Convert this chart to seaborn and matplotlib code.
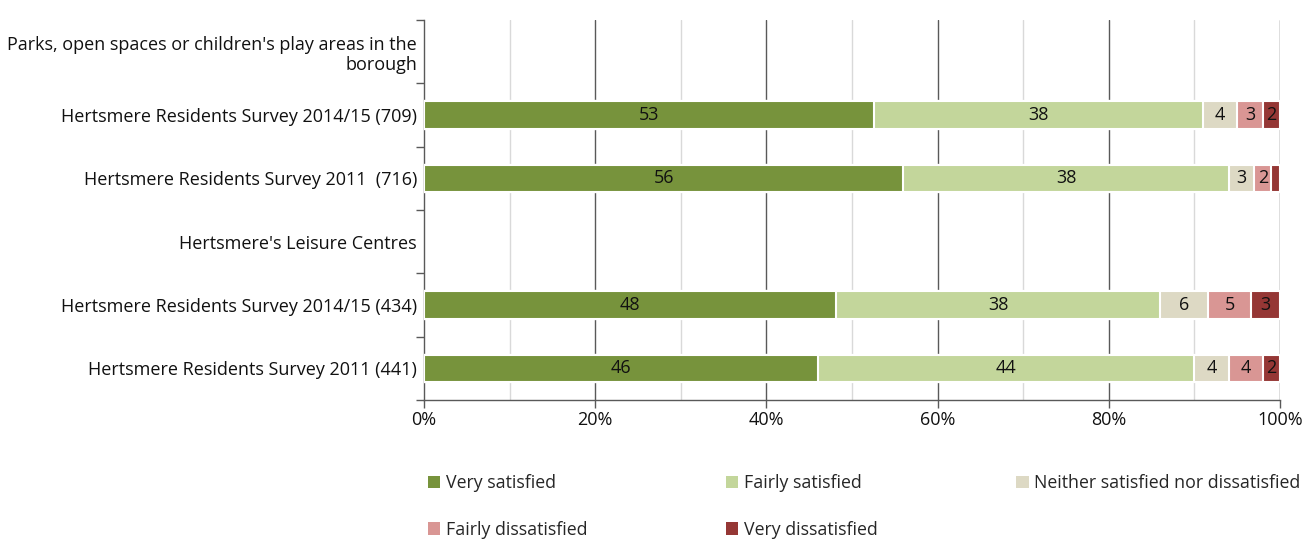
import numpy as np
import pandas as pd
import matplotlib
matplotlib.use("Agg")
import matplotlib.pyplot as plt
import seaborn as sns
from matplotlib.patches import Patch
from matplotlib.ticker import MultipleLocator, FixedLocator

# ---- data ----
rows = [
    "Parks, open spaces or children's play areas in the\nborough",
    "Hertsmere Residents Survey 2014/15 (709)",
    "Hertsmere Residents Survey 2011  (716)",
    "Hertsmere's Leisure Centres",
    "Hertsmere Residents Survey 2014/15 (434)",
    "Hertsmere Residents Survey 2011 (441)",
]
bar_rows = [rows[1], rows[2], rows[4], rows[5]]
series = ["Very satisfied", "Fairly satisfied", "Neither satisfied nor dissatisfied",
          "Fairly dissatisfied", "Very dissatisfied"]
very_satisfied = [52.6, 56.0, 48.1, 46.0]
fairly_satisfied = [38.4, 38.0, 37.9, 44.0]
neither = [4.0, 3.0, 5.6, 4.0]
fairly_dissatisfied = [3.0, 2.0, 5.0, 4.0]
very_dissatisfied = [2.0, 1.0, 3.4, 2.0]
colors = ["#77933C", "#C3D69B", "#DDD9C4", "#D99694", "#953735"]
x_ticks = [0, 20, 40, 60, 80, 100]
x_ticklabels = ["0%", "20%", "40%", "60%", "80%", "100%"]

values = [very_satisfied, fairly_satisfied, neither, fairly_dissatisfied, very_dissatisfied]
df = pd.DataFrame({s: v for s, v in zip(series, values)}, index=bar_rows)
cum = df.cumsum(axis=1)

sns.set_style("white")
plt.rcParams["font.family"] = ["Open Sans", "DejaVu Sans"]
FS = 13
LFS = 12.8

fig = plt.figure(figsize=(13.04, 5.41), dpi=100)
ax = fig.add_axes([424 / 1304, 1 - 400 / 541, 856 / 1304, 380 / 541])

# stacked bars: draw cumulative totals from right-most series to left-most
for s, c in reversed(list(zip(series, colors))):
    d = pd.DataFrame({"row": bar_rows, "val": cum[s].values})
    sns.barplot(data=d, y="row", x="val", order=rows, color=c, orient="h",
                saturation=1, width=0.43, edgecolor="white", linewidth=1.5,
                ax=ax, zorder=3)

# segment labels
for i, r in enumerate(bar_rows):
    yi = rows.index(r)
    for s in series:
        v = df.loc[r, s]
        if v >= 1.5:
            xc = cum.loc[r, s] - v / 2
            ax.text(xc, yi, f"{int(v + 0.5)}", ha="center", va="center",
                    fontsize=FS, color="#111111", zorder=5)

ax.set_xlim(0, 100)
ax.set_ylim(len(rows) - 0.5, -0.5)
ax.set_xlabel("")
ax.set_ylabel("")

# grid lines
ax.xaxis.set_major_locator(FixedLocator(x_ticks))
ax.set_xticklabels(x_ticklabels, fontsize=FS, color="#111111")
ax.xaxis.set_minor_locator(MultipleLocator(10))
ax.grid(False)
for xv in range(10, 100, 20):
    ax.axvline(xv, color="#D9D9D9", lw=1.0, zorder=1)
for xv in x_ticks[1:]:
    ax.axvline(xv, color="#595959", lw=1.0, zorder=1)

ax.tick_params(axis="x", which="major", length=6, width=1, color="#595959",
               direction="out", pad=2, bottom=True)
ax.tick_params(axis="x", which="minor", length=0)

ax.set_yticks(range(len(rows)))
ax.set_yticklabels(rows, fontsize=FS, color="#111111")
ax.yaxis.set_minor_locator(FixedLocator(np.arange(-0.5, len(rows), 1.0)))
ax.tick_params(axis="y", which="major", length=0, pad=5)
ax.tick_params(axis="y", which="minor", length=6, width=1, color="#595959",
               direction="out", left=True)

for side in ["top", "right"]:
    ax.spines[side].set_visible(False)
for side in ["left", "bottom"]:
    ax.spines[side].set_color("#595959")
    ax.spines[side].set_linewidth(1.0)

# legend (row-major order across 3 columns)
handles = [Patch(facecolor=c, edgecolor="none", label=s) for s, c in zip(series, colors)]
order = [0, 3, 1, 4, 2]
fig.legend([handles[i] for i in order], [series[i] for i in order],
           loc="upper left", bbox_to_anchor=(428 / 1304, 1 - 474 / 541),
           ncol=3, frameon=False, fontsize=LFS, handlelength=0.7, handleheight=0.7,
           handletextpad=0.3, columnspacing=7.8, labelspacing=1.62, borderpad=0,
           borderaxespad=0)

fig.savefig("out.png", dpi=100)
